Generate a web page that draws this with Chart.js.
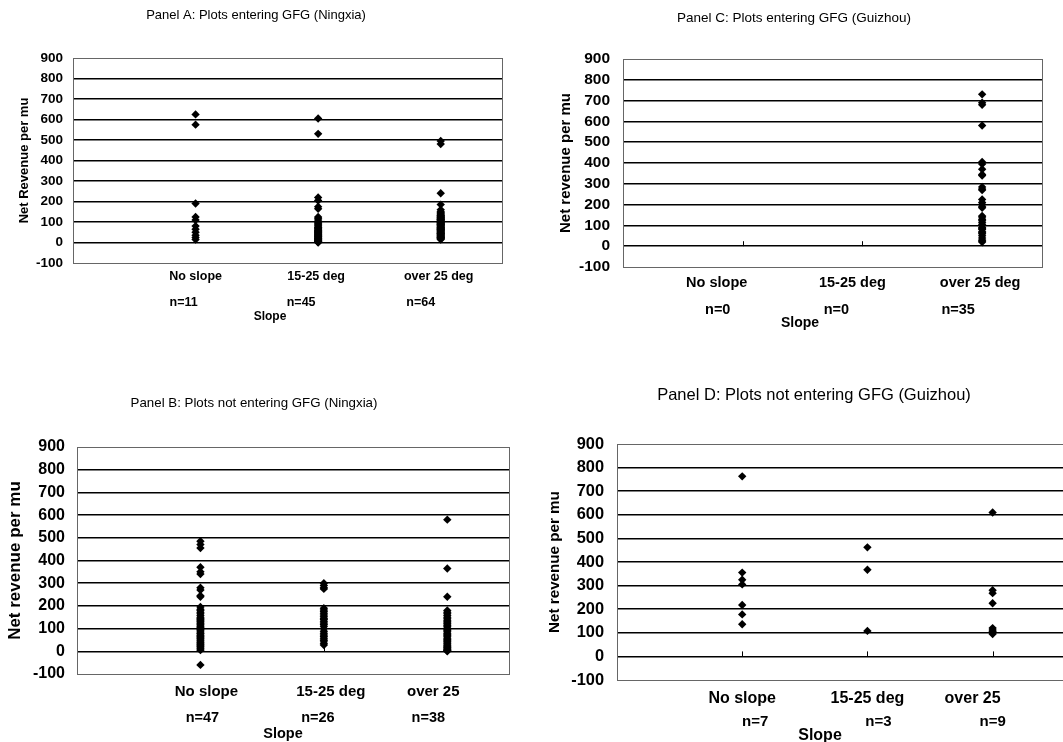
<!DOCTYPE html>
<html>
<head>
<meta charset="utf-8">
<title>Net revenue per mu by slope</title>
<script src="https://cdn.jsdelivr.net/npm/chart.js@4.4.1/dist/chart.umd.min.js"></script>
<style>
  html, body { margin: 0; padding: 0; background: #fff; }
  body { position: relative; width: 1063px; height: 742px; overflow: hidden; }
  canvas { position: absolute; }
</style>
</head>
<body>
<canvas id="panelA" width="530" height="330" style="left:0;top:0"></canvas>
<canvas id="panelC" width="533" height="330" style="left:530px;top:0"></canvas>
<canvas id="panelB" width="540" height="367" style="left:0;top:375px"></canvas>
<canvas id="panelD" width="560" height="367" style="left:530px;top:375px"></canvas>
<script>
// axis values
const yMin = -100;
const yMax = 900;
const yStep = 100;

// category names (Ningxia panels / Guizhou panels)
const catsA = ['No slope', '15-25 deg', 'over 25 deg'];
const catsC = ['No slope', '15-25 deg', 'over 25 deg'];
const catsB = ['No slope', '15-25 deg', 'over 25'];
const catsD = ['No slope', '15-25 deg', 'over 25'];

// sample sizes
const nA = ['n=11', 'n=45', 'n=64'];
const nC = ['n=0', 'n=0', 'n=35'];
const nB = ['n=47', 'n=26', 'n=38'];
const nD = ['n=7', 'n=3', 'n=9'];

// Panel A: plots entering GFG (Ningxia)
const aNoSlope = [625, 575, 190, 125, 110, 80, 65, 50, 35, 25, 15];
const aMid = [605, 530, 220, 205, 175, 165, 125, 118, 110, 100, 95, 90, 85, 80, 75, 72,
  68, 65, 60, 57, 55, 52, 50, 47, 45, 42, 40, 37, 35, 32, 30, 28, 25, 22, 20, 18,
  15, 13, 10, 8, 6, 5, 3, 2, 0];
const aOver = [495, 480, 240, 185, 160, 150, 145, 140, 135, 132, 130, 127, 125, 122, 120,
  118, 115, 113, 112, 110, 108, 105, 103, 100, 98, 96, 95, 93, 90, 88, 87, 85, 83, 80,
  78, 75, 73, 71, 70, 68, 65, 63, 62, 60, 58, 55, 53, 50, 48, 45, 44, 43, 40, 38, 35,
  33, 30, 28, 26, 25, 23, 20, 18, 15];

// Panel C: plots entering GFG (Guizhou)
const cNoSlope = [];
const cMid = [];
const cOver = [730, 690, 680, 580, 405, 395, 370, 345, 340, 285, 275, 270, 225, 210, 200,
  190, 185, 145, 140, 130, 125, 115, 105, 100, 90, 85, 80, 70, 65, 60, 50, 40, 30, 25, 20];

// Panel B: plots not entering GFG (Ningxia)
const bNoSlope = [485, 470, 455, 370, 350, 340, 280, 270, 245, 240, 195, 185, 180, 172, 165,
  158, 150, 145, 140, 135, 130, 125, 120, 116, 110, 105, 100, 96, 90, 85, 80, 76, 70, 65,
  60, 55, 50, 45, 40, 36, 30, 25, 20, 15, 10, 5, -60];
const bMid = [300, 290, 280, 275, 190, 182, 175, 168, 160, 152, 145, 140, 132, 125, 118,
  110, 100, 80, 72, 65, 58, 50, 35, 28, 45, 88];
const bOver = [580, 365, 240, 180, 172, 165, 158, 150, 143, 137, 130, 125, 120, 114, 108,
  102, 97, 92, 86, 80, 75, 70, 64, 58, 52, 47, 42, 37, 32, 27, 22, 18, 14, 10, 7, 4, 2, 0];

// Panel D: plots not entering GFG (Guizhou)
const dNoSlope = [763, 355, 325, 305, 218, 178, 136];
const dMid = [462, 367, 108];
const dOver = [610, 280, 268, 225, 120, 112, 105, 100, 95];

Chart.defaults.font.family = '"Liberation Sans", Arial, sans-serif';
Chart.defaults.color = '#000';

// frame, small ticks on the zero line, and the text around each plot
const panelText = {
  id: 'panelText',
  beforeDatasetsDraw(chart) {
    const { ctx, chartArea: a } = chart;
    const xs = chart.scales.x, ys = chart.scales.y;
    ctx.save();
    ctx.strokeStyle = '#666';
    ctx.lineWidth = 1;
    ctx.strokeRect(Math.round(a.left) + 0.5, Math.round(a.top) + 0.5,
      Math.round(a.right - a.left), Math.round(a.bottom - a.top));
    ctx.strokeStyle = '#000';
    const y0 = ys.getPixelForValue(0);
    for (let i = 1; i <= 3; i++) {
      const x = Math.round(xs.getPixelForValue(i)) + 0.5;
      ctx.beginPath();
      ctx.moveTo(x, y0);
      ctx.lineTo(x, y0 - 5);
      ctx.stroke();
    }
    ctx.restore();
  },
  afterDraw(chart, args, o) {
    const ctx = chart.ctx;
    const xs = chart.scales.x;
    const fam = Chart.defaults.font.family;
    ctx.save();
    ctx.fillStyle = '#000';
    ctx.textAlign = 'center';
    ctx.textBaseline = 'middle';
    ctx.font = o.titleSize + 'px ' + fam;
    ctx.fillText(o.title, o.titleX, o.titleY);
    ctx.font = 'bold ' + o.catSize + 'px ' + fam;
    o.cats.forEach((c, i) => ctx.fillText(c, xs.getPixelForValue(i + 1) + o.catDx[i], o.catY));
    ctx.font = 'bold ' + o.nSize + 'px ' + fam;
    o.ns.forEach((c, i) => ctx.fillText(c, xs.getPixelForValue(i + 1) + o.nDx[i], o.nY));
    ctx.font = 'bold ' + o.slopeSize + 'px ' + fam;
    ctx.fillText('Slope', o.slopeX, o.slopeY);
    ctx.restore();
  }
};

function makePanel(id, series, p) {
  const isEdge = c => c.tick.value === yMin || c.tick.value === yMax;
  return new Chart(document.getElementById(id), {
    type: 'scatter',
    data: {
      datasets: series.map((vals, i) => ({
        data: vals.map(v => ({ x: i + 1, y: v })),
        pointStyle: 'rectRot',
        pointRadius: 4.2,
        pointBackgroundColor: '#000',
        pointBorderWidth: 0,
        clip: false
      }))
    },
    options: {
      responsive: false,
      animation: false,
      layout: { padding: p.pad },
      plugins: {
        legend: { display: false },
        tooltip: { enabled: false },
        panelText: p.text
      },
      scales: {
        x: { type: 'linear', min: 0, max: p.xMax, display: false },
        y: {
          min: yMin,
          max: yMax,
          afterFit: s => { s.width = p.yWidth; },
          ticks: {
            stepSize: yStep,
            autoSkip: false,
            padding: p.tickPad,
            font: { size: p.tickSize, weight: 'bold' }
          },
          grid: {
            drawTicks: false,
            color: c => isEdge(c) ? '#777' : '#000',
            lineWidth: c => isEdge(c) ? 1 : 1.6
          },
          border: { display: false },
          title: {
            display: true,
            text: p.yTitle,
            font: { size: p.yTitleSize, weight: 'bold' },
            padding: { top: p.yTitlePad, bottom: 0 }
          }
        }
      }
    },
    plugins: [panelText]
  });
}

makePanel('panelA', [aNoSlope, aMid, aOver], {
  pad: { left: 8, right: 28, top: 58, bottom: 67 }, yWidth: 65, xMax: 3.5,
  tickSize: 13.5, tickPad: 10, yTitle: 'Net Revenue per mu', yTitleSize: 13, yTitlePad: 9,
  text: {
    title: 'Panel A: Plots entering GFG (Ningxia)', titleX: 256, titleY: 15, titleSize: 13,
    cats: catsA, catY: 277, catDx: [0, -2, -2], catSize: 12.5,
    ns: nA, nY: 303, nDx: [-12, -17, -20], nSize: 12.5,
    slopeX: 270, slopeY: 317, slopeSize: 12
  }
});

makePanel('panelC', [cNoSlope, cMid, cOver], {
  pad: { left: 16, right: 21, top: 59, bottom: 63 }, yWidth: 77, xMax: 3.5,
  tickSize: 15.5, tickPad: 13, yTitle: 'Net revenue per mu', yTitleSize: 15, yTitlePad: 11,
  text: {
    title: 'Panel C: Plots entering GFG (Guizhou)', titleX: 264, titleY: 18, titleSize: 13.5,
    cats: catsC, catY: 283, catDx: [-26, -10, -2], catSize: 14.5,
    ns: nC, nY: 310, nDx: [-25, -26, -24], nSize: 14.5,
    slopeX: 270, slopeY: 323, slopeSize: 14
  }
});

makePanel('panelB', [bNoSlope, bMid, bOver], {
  pad: { left: 0, right: 31, top: 72, bottom: 68 }, yWidth: 77, xMax: 3.5,
  tickSize: 16, tickPad: 12, yTitle: 'Net revenue per mu', yTitleSize: 17, yTitlePad: 5,
  text: {
    title: 'Panel B: Plots not entering GFG (Ningxia)', titleX: 254, titleY: 28, titleSize: 13.3,
    cats: catsB, catY: 317, catDx: [6, 7, -14], catSize: 15,
    ns: nB, nY: 343, nDx: [2, -6, -19], nSize: 14.5,
    slopeX: 283, slopeY: 359, slopeSize: 14.5
  }
});

makePanel('panelD', [dNoSlope, dMid, dOver], {
  pad: { left: 0, right: 16, top: 69, bottom: 62 }, yWidth: 87, xMax: 3.65,
  tickSize: 16.4, tickPad: 13, yTitle: 'Net revenue per mu', yTitleSize: 15.2, yTitlePad: 16,
  text: {
    title: 'Panel D: Plots not entering GFG (Guizhou)', titleX: 284, titleY: 20, titleSize: 16.5,
    cats: catsD, catY: 324, catDx: [0, 0, -20], catSize: 16,
    ns: nD, nY: 347, nDx: [13, 11, 0], nSize: 15,
    slopeX: 290, slopeY: 361, slopeSize: 16
  }
});
</script>
</body>
</html>
